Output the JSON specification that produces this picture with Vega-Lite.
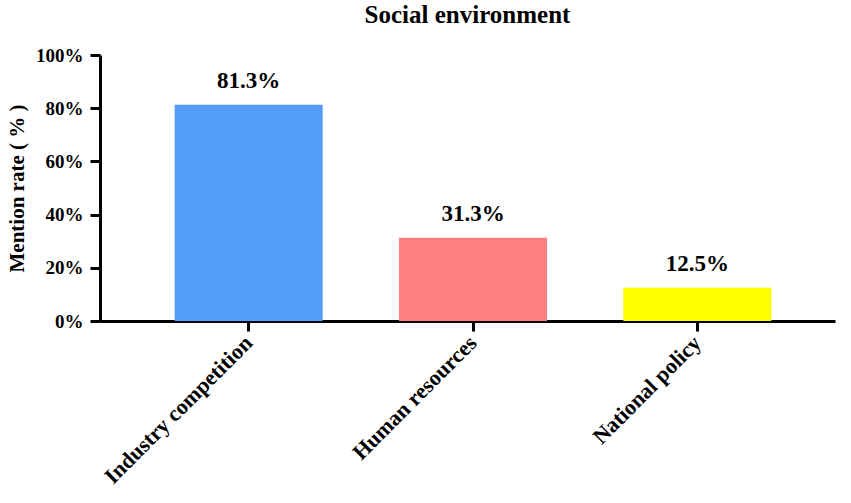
{
  "$schema": "https://vega.github.io/schema/vega-lite/v6.json",
  "autosize": "none",
  "padding": {"left": 100, "top": 55, "right": 16, "bottom": 182},
  "width": 735,
  "height": 266,
  "title": {
    "text": "Social environment",
    "font": "Liberation Serif",
    "fontSize": 25,
    "fontWeight": "bold",
    "color": "#000000",
    "anchor": "middle",
    "dy": -14
  },
  "config": {
    "view": {"stroke": null},
    "axis": {
      "labelFont": "Liberation Serif",
      "titleFont": "Liberation Serif",
      "labelFontWeight": "bold",
      "titleFontWeight": "bold",
      "labelColor": "#000000",
      "titleColor": "#000000",
      "domainColor": "#000000",
      "tickColor": "#000000",
      "domainWidth": 3,
      "tickWidth": 3,
      "tickSize": 10,
      "grid": false
    }
  },
  "data": {
    "values": [
      {"category": "Industry competition", "rate": 0.813, "label": "81.3%"},
      {"category": "Human resources", "rate": 0.313, "label": "31.3%"},
      {"category": "National policy", "rate": 0.125, "label": "12.5%"}
    ]
  },
  "encoding": {
    "x": {
      "field": "category",
      "type": "nominal",
      "sort": null,
      "scale": {"paddingInner": 0.34, "paddingOuter": 0.308, "align": 0.54},
      "axis": {
        "title": null,
        "labelAngle": -45,
        "labelFontSize": 22,
        "labelPadding": 8,
        "labelLimit": 400,
        "labelAlign": "right",
        "labelBaseline": "middle"
      }
    }
  },
  "layer": [
    {
      "mark": {"type": "bar"},
      "encoding": {
        "y": {
          "field": "rate",
          "type": "quantitative",
          "scale": {"domain": [0, 1], "nice": false},
          "axis": {
            "title": "Mention rate ( % )",
            "titleFontSize": 21,
            "titlePadding": 8,
            "labelFontSize": 19,
            "labelPadding": 7,
            "format": ".0%",
            "values": [0, 0.2, 0.4, 0.6, 0.8, 1.0]
          }
        },
        "color": {
          "field": "category",
          "type": "nominal",
          "sort": null,
          "scale": {"range": ["#559DFB", "#FF7F7F", "#FFFF00"]},
          "legend": null
        }
      }
    },
    {
      "mark": {
        "type": "text",
        "font": "Liberation Serif",
        "fontWeight": "bold",
        "fontSize": 23,
        "color": "#000000",
        "baseline": "alphabetic",
        "dy": -17
      },
      "encoding": {
        "y": {"field": "rate", "type": "quantitative"},
        "text": {"field": "label"}
      }
    }
  ]
}
